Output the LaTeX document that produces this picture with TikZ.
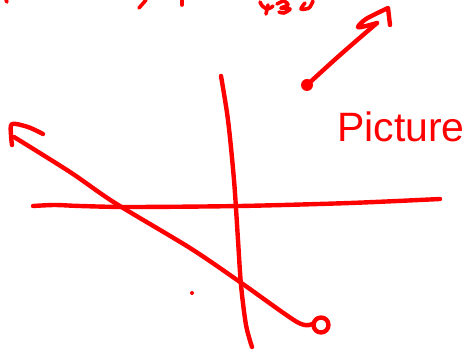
\documentclass[tikz,border=0pt]{standalone}
\usepackage{fontspec}
\setmainfont{Liberation Sans}
\begin{document}
\begin{tikzpicture}[x=1pt,y=-1pt,
  pen/.style={draw=red,line width=4.4pt,line cap=round,line join=round},
  thinpen/.style={draw=red,line width=3.6pt,line cap=round,line join=round}]
\useasboundingbox (0,0) rectangle (469,352);
% top cut-off scribbles
\draw[thinpen] (6,0) -- (7,2);
\draw[thinpen] (146,0) -- (139,8);
\draw[thinpen] (182,0) -- (182,5);
\draw[thinpen] (260,2) .. controls (263,9) and (268,11) .. (273,6);
\draw[thinpen] (268,5) -- (266,14);
\draw[thinpen] plot[smooth] coordinates {(277,4) (284,1) (288,5) (281,8) (290,9) (284,13) (279,12)};
\draw[thinpen] plot[smooth] coordinates {(305,3) (301,9) (309,8) (313,1)};
% horizontal axis
\draw[pen] plot[smooth] coordinates {(33,206) (55,205) (80,206) (130,207) (240,206) (350,203) (440,199)};
% vertical axis
\draw[pen] plot[smooth] coordinates {(221,76) (228,120) (234,180) (238,240) (241,285) (246,325) (252,347)};
% diagonal line with arrow head and circle end
\draw[pen] plot[smooth] coordinates {(14,137) (70,172) (115,203) (190,248) (240,282) (297,322) (312,324)};
\draw[pen] plot[smooth] coordinates {(43,134) (28,127) (12,124) (11,135) (12,145)};
\draw[pen] (321,325) circle[radius=7.5];
% up-right arrow
\fill[red] (307,85) circle[radius=6];
\draw[pen] plot[smooth] coordinates {(307,85) (340,55) (377,23)};
\draw[pen] plot[smooth] coordinates {(377,23) (366,26) (358,27) (366,19) (388,8)} -- (390,25);
% stray dot
\fill[red] (192,293) circle[radius=2];
% label
\node[text=red,font=\fontsize{41}{41}\selectfont,anchor=base west,inner sep=0pt] (lbl) at (337,142) {Picture};
\end{tikzpicture}
\end{document}
